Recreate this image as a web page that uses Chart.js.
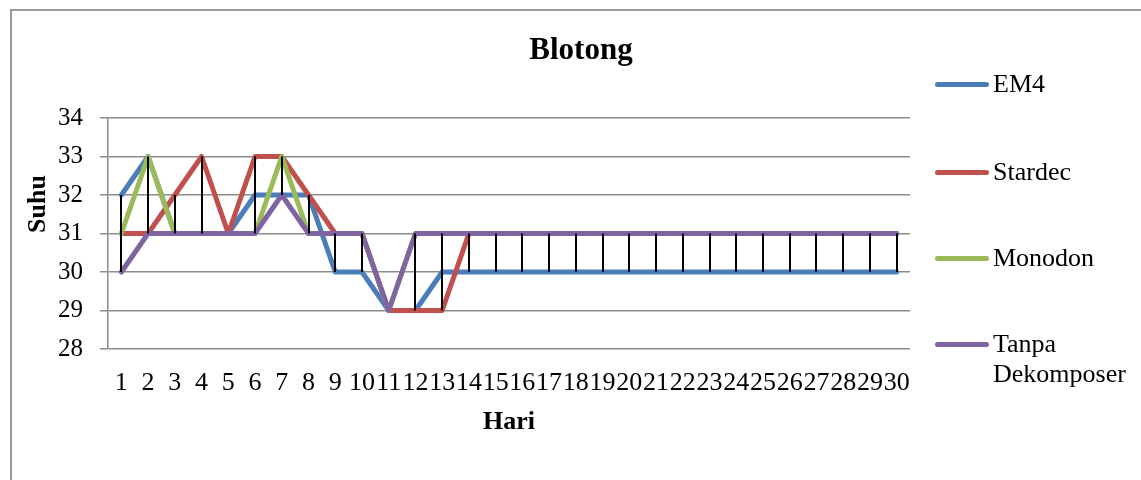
<!DOCTYPE html>
<html>
<head>
<meta charset="utf-8">
<script src="https://cdn.jsdelivr.net/npm/chart.js@4"></script>
<style>
  body { margin: 0; background: #fff; overflow: hidden; font-family: "Liberation Serif", "Times New Roman", serif; }
  #bingkai { position: absolute; left: 10px; top: 9px; width: 1200px; height: 600px; border: 2px solid #999; }
  #grafik { position: absolute; left: 0; top: 0; }
  .legenda { position: absolute; left: 993px; font-size: 26px; line-height: 30px; color: #000; }
  .garis { position: absolute; left: 935px; width: 54px; height: 5px; border-radius: 3px; }
</style>
</head>
<body>
<div id="bingkai"></div>
<canvas id="grafik" width="1162" height="480"></canvas>
<div id="legendaBox"></div>
<script>
const hari = ['1','2','3','4','5','6','7','8','9','10','11','12','13','14','15',
  '16','17','18','19','20','21','22','23','24','25','26','27','28','29','30'];
const em4 =     [32,33,31,31,31,32,32,32,30,30,29,29,30,30,30,30,30,30,30,30,30,30,30,30,30,30,30,30,30,30];
const stardec = [31,31,32,33,31,33,33,32,31,31,29,29,29,31,31,31,31,31,31,31,31,31,31,31,31,31,31,31,31,31];
const monodon = [31,33,31,31,31,31,33,31,31,31,29,31,31,31,31,31,31,31,31,31,31,31,31,31,31,31,31,31,31,31];
const tanpa =   [30,31,31,31,31,31,32,31,31,31,29,31,31,31,31,31,31,31,31,31,31,31,31,31,31,31,31,31,31,31];
const namaSeri = ['EM4', 'Stardec', 'Monodon', 'Tanpa\nDekomposer'];
const suhuTicks = [28, 29, 30, 31, 32, 33, 34];
const judul = 'Blotong';

const warna = ['#4a7ebb', '#c0504d', '#9bbb59', '#8064a2'];
const huruf = '"Liberation Serif", "Times New Roman", serif';

// garis tinggi-rendah hitam di tiap hari, judul grafik dan judul sumbu Y
const garisTinggiRendah = {
  id: 'garisTinggiRendah',
  afterDatasetsDraw(chart) {
    const ctx = chart.ctx;
    const x = chart.scales.x;
    const y = chart.scales.y;
    const semua = chart.data.datasets.map(d => d.data);
    ctx.save();
    ctx.strokeStyle = '#000';
    ctx.lineWidth = 2;
    for (let i = 0; i < hari.length; i++) {
      const nilai = semua.map(s => s[i]);
      const maks = Math.max(...nilai);
      const min = Math.min(...nilai);
      if (maks === min) continue;
      const px = Math.round(x.getPixelForValue(i));
      ctx.beginPath();
      ctx.moveTo(px, y.getPixelForValue(min));
      ctx.lineTo(px, y.getPixelForValue(maks));
      ctx.stroke();
    }
    ctx.restore();
  },
  afterDraw(chart) {
    const ctx = chart.ctx;
    ctx.save();
    ctx.fillStyle = '#000';
    ctx.textAlign = 'center';
    ctx.font = 'bold 31px ' + huruf;
    ctx.textBaseline = 'alphabetic';
    ctx.fillText(judul, 581, 59);

    ctx.translate(38, 204);
    ctx.rotate(-Math.PI / 2);
    ctx.font = 'bold 26px ' + huruf;
    ctx.textBaseline = 'middle';
    ctx.fillText('Suhu', 0, 0);
    ctx.restore();
  }
};

const seri = [em4, stardec, monodon, tanpa];
const datasets = seri.map((data, i) => ({
  label: namaSeri[i],
  data: data,
  borderColor: warna[i],
  backgroundColor: warna[i],
  borderWidth: 5,
  pointRadius: 0,
  tension: 0,
  borderJoinStyle: 'round',
  borderCapStyle: 'round',
  order: seri.length - 1 - i
}));

new Chart(document.getElementById('grafik'), {
  type: 'line',
  data: { labels: hari, datasets: datasets },
  options: {
    responsive: false,
    animation: false,
    devicePixelRatio: 1,
    layout: { padding: { left: 0, right: 252, top: 118, bottom: 0 } },
    plugins: {
      legend: { display: false },
      tooltip: { enabled: false },
      title: { display: false }
    },
    scales: {
      x: {
        offset: true,
        grid: { display: false, drawTicks: false },
        border: { display: false },
        ticks: {
          color: '#000',
          font: { family: huruf, size: 26 },
          autoSkip: false,
          maxRotation: 0,
          minRotation: 0,
          padding: 19
        },
        title: {
          display: true,
          text: 'Hari',
          color: '#000',
          font: { family: huruf, size: 26, weight: 'bold' },
          padding: { top: 0, bottom: 42 }
        },
        afterFit(s) { s.height = 131; }
      },
      y: {
        min: suhuTicks[0],
        max: suhuTicks[suhuTicks.length - 1],
        afterBuildTicks(s) { s.ticks = suhuTicks.map(v => ({ value: v })); },
        grid: { color: '#8c8c8c', lineWidth: 1.5, tickLength: 8, drawTicks: true },
        border: { display: true, color: '#8c8c8c', width: 1.5 },
        ticks: {
          color: '#000',
          font: { family: huruf, size: 25 },
          padding: 17
        },
        afterFit(s) { s.width = 108; }
      }
    }
  },
  plugins: [garisTinggiRendah]
});

// legenda di kanan
const posisiLegenda = [84, 172, 258, 344];
const box = document.getElementById('legendaBox');
namaSeri.forEach((nama, i) => {
  const g = document.createElement('div');
  g.className = 'garis';
  g.style.top = (posisiLegenda[i] - 2.5) + 'px';
  g.style.background = warna[i];
  box.appendChild(g);
  const t = document.createElement('div');
  t.className = 'legenda';
  t.style.top = (posisiLegenda[i] - 15) + 'px';
  t.innerHTML = nama.replace('\n', '<br>');
  box.appendChild(t);
});
</script>
</body>
</html>
